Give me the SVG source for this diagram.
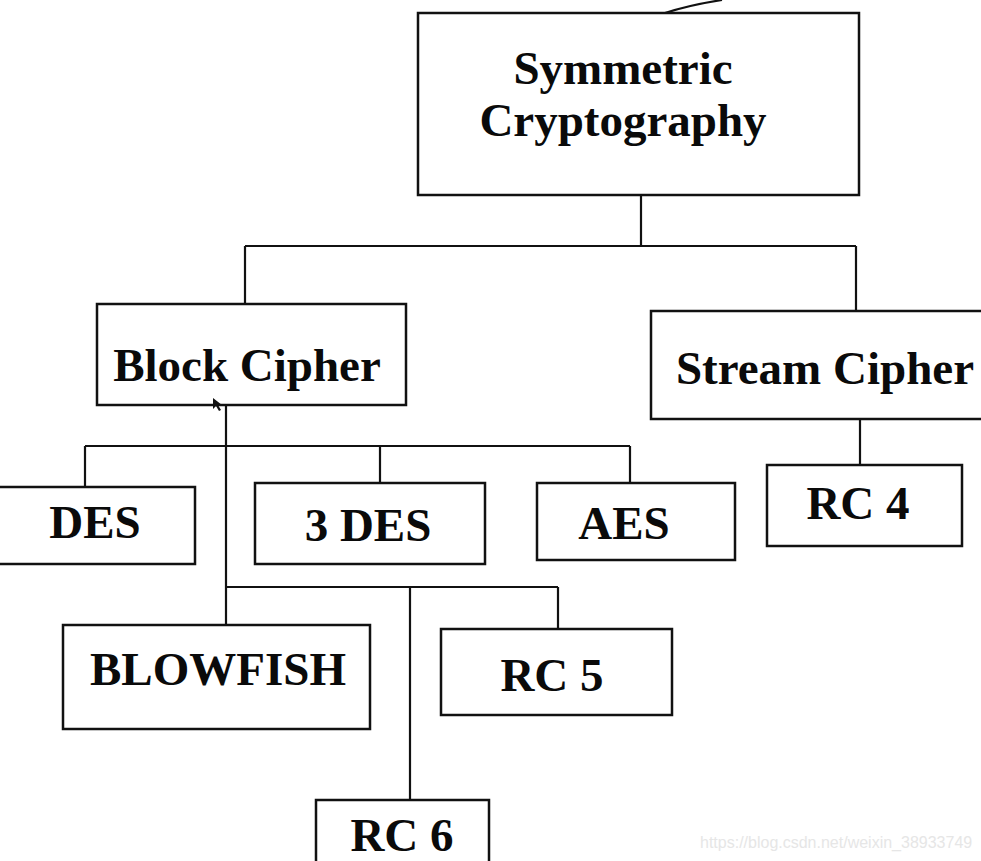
<svg xmlns="http://www.w3.org/2000/svg" width="981" height="861" viewBox="0 0 981 861">
<style>
.box{fill:#fff;stroke:#111;stroke-width:2.5}
.lbl{font-family:"Liberation Serif","Times New Roman",serif;font-weight:bold;font-size:47px;fill:#0a0a0a;text-anchor:middle}
.con{fill:none;stroke:#111;stroke-width:2.2}
.wm{font-family:"Liberation Sans",Arial,sans-serif;font-size:16px;fill:#e6e6e6}
</style>
<rect width="981" height="861" fill="#fff"/>
<g id="connectors">
<path class="con" d="M665,13 Q690,5 722,0"/>
<path class="con" d="M641,195 V246 M245,246 H856 M245,246 V304 M856,246 V311"/>
<path class="con" d="M226,405 V587 M85,446 H630 M85,446 V487 M380,446 V483 M630,446 V483"/>
<path class="con" d="M860,419 V465"/>
<path class="con" d="M226,587 H558 M226,587 V625 M410,587 V800 M558,587 V629"/>
</g>
<g id="symmetric">
<rect class="box" x="418" y="13" width="441" height="182"/>
<text class="lbl" x="623" y="84">Symmetric</text>
<text class="lbl" x="623" y="136">Cryptography</text>
</g>
<g id="block">
<rect class="box" x="97" y="304" width="309" height="101"/>
<text class="lbl" x="247" y="381">Block Cipher</text>
</g>
<g id="stream">
<rect class="box" x="651" y="311" width="340" height="108"/>
<text class="lbl" x="825" y="384">Stream Cipher</text>
</g>
<g id="des">
<rect class="box" x="-5" y="487" width="200" height="77"/>
<text class="lbl" x="95" y="538">DES</text>
</g>
<g id="des3">
<rect class="box" x="255" y="483" width="230" height="81"/>
<text class="lbl" x="368" y="541">3 DES</text>
</g>
<g id="aes">
<rect class="box" x="537" y="483" width="198" height="77"/>
<text class="lbl" x="624" y="539">AES</text>
</g>
<g id="rc4">
<rect class="box" x="767" y="465" width="195" height="81"/>
<text class="lbl" x="858" y="519">RC 4</text>
</g>
<g id="blowfish">
<rect class="box" x="63" y="625" width="307" height="104"/>
<text class="lbl" x="218" y="685">BLOWFISH</text>
</g>
<g id="rc5">
<rect class="box" x="441" y="629" width="231" height="86"/>
<text class="lbl" x="552" y="691">RC 5</text>
</g>
<g id="rc6">
<rect class="box" x="316" y="800" width="173" height="80"/>
<text class="lbl" x="402" y="851">RC 6</text>
</g>
<polygon points="213,398 213,409 216,406 219,411 221,410 218,405 222,405" fill="#111"/>
<text class="wm" x="700" y="848">https://blog.csdn.net/weixin_38933749</text>
</svg>
